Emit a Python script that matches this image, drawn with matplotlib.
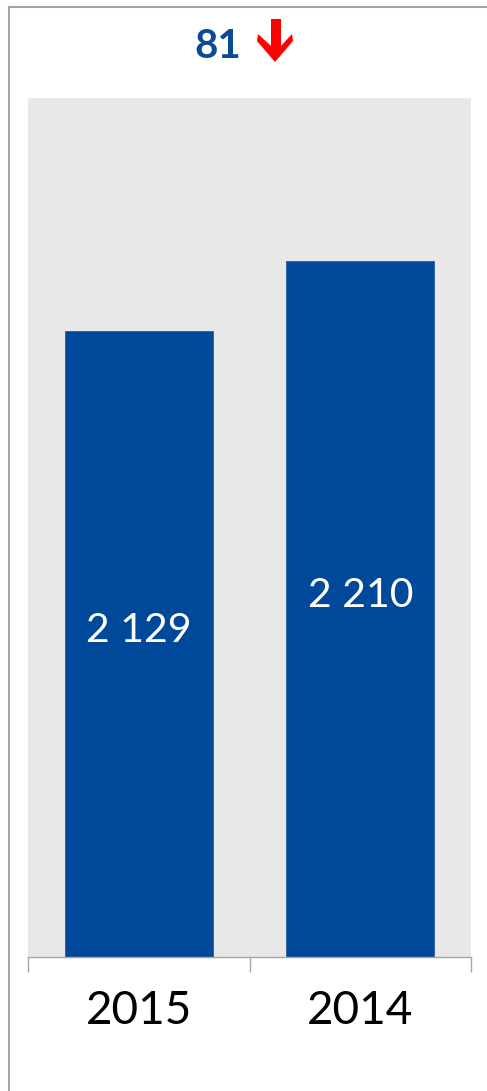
import matplotlib
matplotlib.use("Agg")
import matplotlib.pyplot as plt
from matplotlib.lines import Line2D
from matplotlib.patches import Polygon

years = ["2015", "2014"]
values = [2129, 2210]
value_labels = ["2 129", "2 210"]
change_label = "81"
y_min, y_max = 1400, 2400

BAR = "#00489A"
BG = "#E8E8E8"
GREY = "#A6A6A6"
W, H = 487, 1091

plt.rcParams["font.family"] = ["Lato", "DejaVu Sans"]

fig = plt.figure(figsize=(W / 100, H / 100), dpi=100)
ax = fig.add_axes([28 / W, (H - 957) / H, 443 / W, 859 / H])
ax.set_facecolor(BG)

x = list(range(len(years)))
ax.bar(x, [v - y_min for v in values], bottom=y_min, width=0.668,
       color=BAR, edgecolor="#2A5FA8", linewidth=0.6, zorder=2)
for xi, v, lab in zip(x, values, value_labels):
    ax.annotate(lab, (xi, (v + y_min) / 2), xytext=(0, 10),
                textcoords="offset points", ha="center", va="center",
                color="white", fontsize=29.5, zorder=3)

ax.set_xlim(-0.5, len(years) - 0.5)
ax.set_ylim(y_min, y_max)
ax.set_yticks([])
for s in ("left", "right", "top"):
    ax.spines[s].set_visible(False)
ax.spines["bottom"].set_color(GREY)
ax.spines["bottom"].set_linewidth(1)

ax.set_xticks(x)
ax.set_xticklabels(years, fontsize=33)
ax.tick_params(axis="x", which="major", length=0, pad=24, colors="black")
ax.set_xticks([i - 0.5 for i in range(len(years) + 1)], minor=True)
ax.tick_params(axis="x", which="minor", length=11, width=1, color=GREY)

# outer frame (left and top edges only)
fig.add_artist(Line2D([9 / W, 9 / W], [0, (H - 7) / H], color=GREY, lw=1.5))
fig.add_artist(Line2D([9 / W, 1], [(H - 7) / H, (H - 7) / H], color=GREY, lw=1.5))

# headline: change and red down arrow
fig.text(218 / W, (H - 47) / H, change_label, ha="center", va="center",
         fontsize=29, fontweight="bold", color="#0B4A97")
arrow_px = [(271, 19), (281, 19), (281, 46), (292, 34), (293, 41), (275, 62),
            (257, 41), (258, 34), (271, 46)]
fig.add_artist(Polygon([(px / W, (H - py) / H) for px, py in arrow_px],
                       closed=True, facecolor="#FF0000", edgecolor="none",
                       transform=fig.transFigure))

fig.savefig("out.png", dpi=100)
